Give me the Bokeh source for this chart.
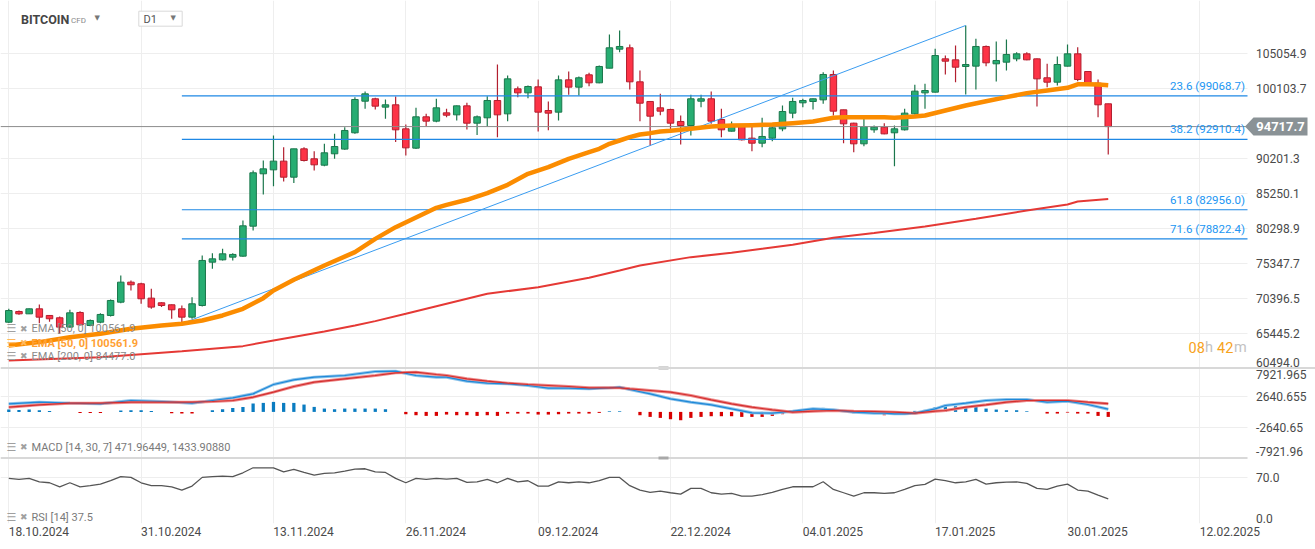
from bokeh.plotting import figure
from bokeh.models import ColumnDataSource, FixedTicker, Range1d, Span, Grid
from bokeh.core.properties import value
from bokeh.embed import file_html
from bokeh.resources import INLINE

# ------------------------------------------------------------------ data (daily, 18.10.2024 .. 03.02.2025)
opens = [67050, 68560, 68230, 68940, 68000, 67670, 66350, 68420, 66580, 67050,
         68000, 69880, 72710, 72480, 70450, 69790, 69510, 68940, 67760, 69410,
         75540, 75870, 76250, 76390, 80630, 88040, 88600, 89830, 87560, 91570,
         90160, 89260, 90870, 91530, 93840, 98310, 98650, 97470, 97800, 94400,
         91670, 96100, 95490, 96660, 96380, 97650, 95200, 95960, 98410, 96520,
         100060, 99490, 100340, 96990, 96760, 101330, 100300, 102040, 100910, 102980,
         105670, 105860, 101050, 98270, 97370, 97140, 95440, 94870, 98310, 98650,
         95720, 94070, 94870, 93080, 92370, 93080, 94400, 96620, 98080, 98270,
         98500, 102090, 97090, 95200, 92280, 94260, 94640, 93840, 94260, 96520,
         99490, 99590, 104300, 104160, 103220, 103270, 106050, 103600, 103830, 104300,
         105010, 104300, 101620, 101000, 103270, 105010, 102510, 100860, 97940]
highs = [68940, 68700, 69000, 69550, 68050, 67860, 68800, 68610, 67430, 68330,
         70260, 73660, 72950, 72620, 71770, 69880, 69550, 69410, 70590, 76480,
         76810, 77430, 76810, 81440, 88510, 89920, 93460, 91810, 91600, 91810,
         91240, 92280, 93690, 94640, 98880, 99680, 98790, 98550, 98980, 95010,
         97370, 96520, 98650, 97230, 97700, 98080, 96290, 99020, 103500, 101950,
         100390, 100530, 101380, 98270, 101950, 102510, 101800, 102320, 103360, 107750,
         108310, 106330, 102650, 98270, 99350, 97230, 96290, 99210, 99210, 99680,
         97230, 95440, 94900, 94870, 95960, 94870, 97700, 98790, 98650, 98700,
         102420, 102650, 97100, 95250, 95820, 94870, 95200, 94870, 97230, 100630,
         100770, 105720, 104770, 106190, 109020, 107130, 106190, 106760, 107040, 105250,
         105250, 104350, 103600, 104630, 106330, 105950, 102550, 101380, 97950]
lows = [66950, 68090, 68200, 66910, 67100, 65400, 66300, 66580, 66490, 66910,
        67860, 69740, 71530, 69650, 68940, 69180, 67530, 66843, 67530, 69270,
        74600, 75780, 75780, 76300, 80020, 85110, 86290, 86950, 86720, 89780,
        88510, 89120, 90160, 91430, 93690, 97230, 97140, 95820, 92520, 90630,
        91530, 94730, 95340, 96050, 95580, 94310, 93510, 94730, 93220, 95490,
        98880, 98740, 94020, 94210, 95580, 99210, 99120, 100440, 100860, 102980,
        105250, 99970, 95490, 92040, 96330, 94260, 92190, 93460, 97470, 95110,
        93220, 94020, 92750, 91240, 91810, 92660, 94070, 95910, 97470, 97140,
        97940, 96290, 92370, 91100, 91950, 93840, 93650, 89120, 94170, 96430,
        97230, 99550, 102090, 101000, 99260, 99970, 103270, 101100, 102650, 103970,
        104100, 97560, 100300, 100530, 103200, 101140, 100770, 96050, 90770]
closes = [68700, 68230, 68940, 67760, 67530, 66350, 68370, 66680, 67290, 68140,
          70120, 72710, 72340, 70360, 69180, 69410, 68800, 67760, 69650, 75780,
          76010, 76720, 76630, 80680, 88180, 88740, 89830, 87560, 91570, 89920,
          89310, 91010, 91900, 94170, 98550, 99350, 97610, 97800, 94260, 91710,
          96100, 95490, 97370, 96330, 97650, 95200, 96100, 98410, 96380, 101470,
          99490, 100390, 96760, 96620, 101330, 100300, 101620, 100910, 103220, 105860,
          106050, 101050, 98030, 96190, 96900, 95200, 94870, 98650, 98650, 95490,
          94260, 94730, 92850, 92370, 93320, 94540, 96850, 98270, 98410, 98650,
          102090, 96900, 95110, 92280, 94730, 94640, 93690, 94400, 96620, 99730,
          99820, 104770, 103970, 103120, 103500, 106050, 103740, 104070, 104920, 105010,
          104160, 101470, 101000, 103500, 105010, 101380, 100860, 97800, 94717.7]

ema50_day = [0, 3, 6, 9, 12, 15, 17, 19, 21, 23, 25, 26, 28, 31, 34, 36, 38, 42, 43, 45,
             47, 49, 51, 53, 55, 57, 58, 59, 60, 61, 62, 63, 64, 65, 67, 69, 71, 73, 75, 77,
             79, 81, 82, 85, 86, 87, 89, 90, 92, 94, 96, 98, 100, 102, 104, 105, 106, 107, 108]
ema50_val = [63750, 64230, 64930, 65400, 66110, 66580, 66820, 67290, 68000, 68940,
             70450, 71530, 73040, 75070, 76960, 78840, 80490, 83230, 83650, 84360,
             85300, 86480, 88040, 88980, 90160, 91100, 91570, 92280, 92750, 93220,
             93600, 93790, 94020, 94120, 94400, 94730, 94870, 94920, 95010, 95200,
             95440, 95960, 96050, 96050, 96050, 95960, 96150, 96290, 96990, 97700,
             98310, 98880, 99450, 99820, 100200, 100700, 100720, 100680, 100561.9]

ema200_day = [0, 9, 17, 23, 26, 31, 34, 36, 39, 42, 47, 52, 57, 60, 62, 67, 71, 74, 77, 81,
              85, 90, 95, 100, 104, 105, 108]
ema200_val = [61630, 62100, 62950, 63660, 64460, 65730, 66580, 67200, 68230, 69300,
              71060, 72000, 73330, 74360, 75070, 76250, 76860, 77430, 77990, 78980,
              79650, 80590, 81670, 82850, 83700, 84130, 84477.0]

macd_day = [0, 3, 6, 9, 12, 15, 18, 20, 22, 24, 26, 28, 30, 33, 36, 38, 40, 42, 43, 45,
            47, 49, 51, 53, 55, 57, 59, 60, 61, 63, 65, 67, 69, 71, 73, 75, 77, 79, 81, 83,
            85, 86, 87, 88, 89, 91, 92, 94, 96, 98, 100, 102, 104, 106, 108]
macd_val = [1404, 1694, 1520, 1404, 1984, 1810, 1520, 1984, 2448, 3144,
            4768, 5580, 6044, 6334, 7030, 7088, 6334, 6044, 6044, 5348,
            5000, 4884, 4594, 4130, 4130, 4014, 4188, 4304, 3898, 3144,
            2274, 1694, 1230, 534, -162, -220, 128, 534, 360, -46,
            -220, -220, -336, -336, -220, 534, 1114, 1520, 1984, 2158,
            2158, 1694, 1868, 1288, 471.96449]
signal_day = [0, 3, 6, 9, 12, 15, 18, 20, 22, 24, 26, 28, 30, 33, 36, 38, 40, 42, 43, 45,
              47, 49, 51, 53, 55, 57, 59, 60, 61, 63, 65, 67, 69, 71, 73, 75, 77, 79, 81, 83,
              85, 87, 89, 91, 92, 94, 96, 98, 100, 102, 104, 106, 108]
signal_val = [824, 1230, 1520, 1520, 1694, 1694, 1694, 1810, 1984, 2564,
              3434, 4420, 5174, 5754, 6334, 6798, 6914, 6508, 6334, 5754,
              5348, 5000, 4768, 4594, 4420, 4188, 4188, 4188, 4014, 3724,
              3434, 2854, 2100, 1404, 824, 360, -46, 128, 244, 128,
              70, -46, -220, 128, 244, 824, 1230, 1694, 1984, 1984,
              1984, 1694, 1433.90880]
hist_val = [406, 348, 406, 290, 174, 0, 0, -174, -174, -174,
            0, 232, 290, 290, 174, 0, -232, -290, -290, 0,
            290, 464, 696, 870, 1450, 1566, 1740, 1566, 1566, 1276,
            870, 580, 464, 580, 580, 580, 580, 464, 0, -406,
            -580, -696, -696, -464, -580, -580, -696, -580, -696, -290,
            -290, -290, -464, -464, -406, -290, -290, -290, -174, 116,
            116, 0, -580, -870, -1044, -1276, -1450, -1044, -870, -754,
            -754, -754, -870, -870, -870, -696, -400, 116, 116, 400,
            700, 400, 290, -230, -350, -350, -580, -350, -290, 174,
            350, 812, 1160, 986, 870, 870, 580, 406, 290, 290,
            116, 0, -290, -290, -116, -290, -290, -696, -870]
rsi_val = [68.6, 67.1, 68.6, 63.5, 62.0, 55.9, 62.0, 55.9, 57.5, 60.0,
           65.1, 71.2, 70.2, 62.0, 57.5, 57.5, 55.9, 50.9, 57.0, 70.2,
           71.2, 72.2, 71.2, 77.2, 84.8, 84.8, 84.8, 78.7, 82.3, 77.7,
           73.7, 76.2, 77.2, 79.8, 82.8, 83.3, 78.7, 77.7, 68.6, 62.0,
           68.6, 67.1, 68.6, 67.6, 68.6, 62.5, 63.5, 67.1, 62.0, 68.6,
           63.5, 65.1, 57.0, 57.0, 63.5, 62.0, 63.5, 62.0, 65.1, 70.2,
           70.2, 57.5, 50.9, 47.3, 49.4, 46.8, 44.8, 53.4, 53.4, 46.8,
           44.8, 45.8, 41.7, 41.7, 43.8, 47.3, 51.9, 55.9, 55.9, 55.9,
           63.5, 51.9, 46.8, 41.7, 46.8, 46.8, 45.8, 46.8, 51.9, 57.5,
           59.5, 67.6, 65.1, 62.0, 63.5, 67.1, 60.0, 62.0, 63.0, 63.5,
           61.0, 53.4, 51.9, 57.0, 60.0, 50.9, 49.4, 43.3, 37.5]

fib_pct = ["23.6", "38.2", "61.8", "71.6"]
fib_price = [99068.7, 92910.4, 82956.0, 78822.4]
swing_low_day, swing_low = 17, 66843.0
swing_high_day, swing_high = 94, 109023.0
last_price = 94717.7
ema50_last, ema200_last = 100561.9, 84477.0
macd_last, signal_last, rsi_last = "471.96449", "1433.90880", "37.5"

price_ticks = [60494.0, 65445.2, 70396.5, 75347.7, 80298.9, 85250.1, 90201.3, 100103.7, 105054.9]
macd_grid = [2640.655, -2640.65]
macd_tick_labels = ["7921.965", "2640.655", "-2640.65", "-7921.96"]
rsi_tick_labels = ["70.0", "0.0"]
date_tick_days = [0, 13, 26, 39, 52, 65, 78, 91, 104, 117]
date_tick_labels = ["18.10.2024", "31.10.2024", "13.11.2024", "26.11.2024", "09.12.2024",
                    "22.12.2024", "04.01.2025", "17.01.2025", "30.01.2025", "12.02.2025"]

n = len(closes)
assert len(opens) == len(highs) == len(lows) == n == len(hist_val) == len(rsi_val) == 109
days = list(range(n))

# ------------------------------------------------------------------ screen calibration (pixels of the layout)
PX_DAY, DAY0 = 10.18, 8.3
def xd(px): return (px - DAY0) / PX_DAY
def yp(py): return 112554.0 - 141.46 * py
def ym(py): return (411.4 - py) * 174.0
def yr(py): return (523.0 - py) / 0.657
def py_of_price(v): return (112554.0 - v) / 141.46
def py_of_macd(v): return 411.4 - v / 174.0
def py_of_rsi(v): return 523.0 - v * 0.657

FL, FR, FT, FB = 0, 1315, 0, 523
PANE_R = 1247          # right edge of the drawing panes (price scale to its right)
FONT = value("Roboto")

p = figure(frame_width=FR - FL, frame_height=FB - FT, output_backend="svg",
           toolbar_location=None, y_axis_location=None,
           x_range=Range1d(xd(FL), xd(FR)), y_range=Range1d(yp(FB), yp(FT)),
           min_border=0)
p.extra_y_ranges = {"macd": Range1d(ym(FB), ym(FT)), "rsi": Range1d(yr(FB), yr(FT))}
p.outline_line_color = None
p.background_fill_color = "white"
p.border_fill_color = "white"

# grids
p.ygrid.ticker = FixedTicker(ticks=price_ticks)
for g in (p.xgrid, p.ygrid):
    g.grid_line_color = "#eeeeee"
    g.grid_line_width = 1
p.add_layout(Grid(dimension=1, ticker=FixedTicker(ticks=macd_grid), y_range_name="macd",
                  grid_line_color="#eeeeee"))
p.add_layout(Grid(dimension=1, ticker=FixedTicker(ticks=[70.0, 0.0]), y_range_name="rsi",
                  grid_line_color="#eeeeee"))

# x axis (labels start at their grid line)
xa = p.xaxis[0]
lab_ticks = [d + 2.95 for d in date_tick_days]
xa.ticker = FixedTicker(ticks=lab_ticks)
xa.major_label_overrides = {t: s for t, s in zip(lab_ticks, date_tick_labels)}
xa.axis_line_color = None
xa.major_tick_line_color = None
xa.minor_tick_line_color = None
xa.major_tick_out = 0
xa.minor_tick_out = 0
xa.major_label_standoff = 3
xa.major_label_text_font = "Roboto"
xa.major_label_text_font_size = "12px"
xa.major_label_text_color = "#4a4a4a"
p.xgrid.ticker = FixedTicker(ticks=date_tick_days)

# price-scale column background (grid stops at the pane edge)
p.quad(left=xd(PANE_R), right=xd(FR + 5), top=yp(FT - 5), bottom=yp(FB + 5),
       fill_color="white", line_color=None)

# pane separators + handles
p.add_layout(Span(location=yp(367.5), dimension="width", line_color="#d8d8d8", line_width=2))
p.segment(x0=xd(FL), x1=xd(PANE_R), y0=yp(457.5), y1=yp(457.5), line_color="#d8d8d8", line_width=2)
p.rect(x=[xd(663)] * 2, y=[yp(367.5), yp(457.5)], width=10, height=3,
       width_units="screen", height_units="screen", fill_color="#a8a8a8", line_color=None)

# ------------------------------------------------------------------ candles
up = [c >= o for o, c in zip(opens, closes)]
src = ColumnDataSource(dict(
    day=days, high=highs, low=lows,
    top=[max(o, c) for o, c in zip(opens, closes)],
    bot=[min(o, c) for o, c in zip(opens, closes)],
    fill=["#27ad72" if u else "#fd3346" for u in up],
    edge=["#1b774c" if u else "#b21f2f" for u in up]))
p.segment(x0="day", y0="low", x1="day", y1="high", line_color="edge", line_width=1.2, source=src)
p.vbar(x="day", width=0.64, top="top", bottom="bot", fill_color="fill", line_color="edge",
       line_width=1, source=src)

# last price line
p.segment(x0=xd(FL), x1=xd(PANE_R), y0=last_price, y1=last_price, line_color="#8c8c8c", line_width=1)

# fibonacci + trend line
x_end = xd(PANE_R)
p.segment(x0=[swing_low_day] * 4, x1=[x_end] * 4, y0=fib_price, y1=fib_price,
          line_color="#1e88e5", line_width=1.2)
p.text(x=[x_end] * 4, y=fib_price, text=[f"{a} ({b:.1f})" for a, b in zip(fib_pct, fib_price)],
       text_align="right", text_baseline="bottom", x_offset=-2.5, y_offset=-3,
       text_font=FONT, text_font_size="11.5px", text_color="#2196f3")
p.line([swing_low_day, swing_high_day], [swing_low, swing_high], line_color="#3a9cf0", line_width=1)

# moving averages
p.line(ema200_day, ema200_val, line_color="#e53935", line_width=2)
p.line(ema50_day, ema50_val, line_color="#fb8c00", line_width=4.5, line_join="round")

# countdown
p.text(x=[xd(1188)] * 4, y=[yp(346.7)] * 4, text=["08", "h", "42", "m"],
       x_offset=[0, 16.5, 28.5, 45.5], text_color=["#f7a21b", "#c2c2c2", "#f7a21b", "#c2c2c2"],
       text_align="left", text_baseline="middle", text_font=FONT, text_font_size="14.5px")

# ------------------------------------------------------------------ MACD pane
hsrc = ColumnDataSource(dict(day=days, top=hist_val,
                             color=["#0a7cc1" if v > 0 else "#d80000" for v in hist_val]))
p.vbar(x="day", width=0.32, top="top", bottom=0, fill_color="color", line_color=None,
       source=hsrc, y_range_name="macd")
p.line(macd_day, macd_val, line_color="#8cc3ea", line_width=3, y_range_name="macd")
p.line(signal_day, signal_val, line_color="#ee8a8a", line_width=3, y_range_name="macd")
p.line(macd_day, macd_val, line_color="#1e88d8", line_width=1.2, y_range_name="macd")
p.line(signal_day, signal_val, line_color="#d32f2f", line_width=1.2, y_range_name="macd")

# ------------------------------------------------------------------ RSI pane
p.line(days, rsi_val, line_color="#555555", line_width=1.3, y_range_name="rsi")

# ------------------------------------------------------------------ price scale labels (right column)
scale_txt, scale_py = [], []
for v in price_ticks:
    scale_txt.append(f"{v:.1f}")
    scale_py.append(py_of_price(v) - (6 if v == price_ticks[0] else 0))
scale_txt += macd_tick_labels
scale_py += [374.0, py_of_macd(2640.655), py_of_macd(-2640.65), 451.0]
scale_txt += rsi_tick_labels
scale_py += [py_of_rsi(70.0), 518.3]
p.text(x=[xd(1255.5)] * len(scale_txt), y=[yp(v) for v in scale_py], text=scale_txt,
       text_align="left", text_baseline="middle", text_font=FONT, text_font_size="12px",
       text_color="#4a4a4a")

# last price tag
h = 141.46 * 9
p.patch(x=[xd(1244.5), xd(1253), xd(1307), xd(1307), xd(1253)],
        y=[last_price, last_price + h, last_price + h, last_price - h, last_price - h],
        fill_color="#8a9296", line_color=None)
p.text(x=[xd(1280)], y=[last_price], text=[f"{last_price:.1f}"], text_align="center",
       text_baseline="middle", text_color="white", text_font_style="bold",
       text_font=FONT, text_font_size="13px")

# ------------------------------------------------------------------ legends / header
leg_y = [328.3, 342.5, 355.8, 446.7, 516.7]
leg_txt = [f"EMA [50, 0] {ema50_last:.1f}", f"EMA [50, 0] {ema50_last:.1f}",
           f"EMA [200, 0] {ema200_last:.1f}", f"MACD [14, 30, 7] {macd_last},  {signal_last}",
           f"RSI [14] {rsi_last}"]
leg_col = ["#8a8a8a", "#ffa033", "#8a8a8a", "#7a7a7a", "#7a7a7a"]
icon_col = ["#a0a0a0", "#ffb85c", "#a0a0a0", "#a0a0a0", "#a0a0a0"]
p.text(x=[xd(31)] * 5, y=[yp(v) for v in leg_y], text=leg_txt, text_color=leg_col,
       text_font_style=["normal", "bold", "normal", "normal", "normal"],
       text_align="left", text_baseline="middle", text_font=FONT, text_font_size="11px")
p.text(x=[xd(6)] * 5, y=[yp(v) for v in leg_y], text=["☰"] * 5, text_color=icon_col,
       text_align="left", text_baseline="middle", text_font=value("DejaVu Sans"), text_font_size="11px")
p.text(x=[xd(19.5)] * 5, y=[yp(v) for v in leg_y], text=["✖"] * 5, text_color=icon_col,
       text_align="left", text_baseline="middle", text_font=value("DejaVu Sans"), text_font_size="9px")

p.quad(left=xd(138.3), right=xd(181.7), top=yp(10.7), bottom=yp(25.7),
       fill_color="white", line_color="#d9d9d9")
p.text(x=[xd(20.5)], y=[yp(18.5)], text=["BITCOIN"], text_font=FONT, text_font_style="bold",
       text_font_size="12.5px", text_color="#454545", text_align="left", text_baseline="middle")
p.text(x=[xd(70.5)], y=[yp(19.5)], text=["CFD"], text_font=FONT, text_font_size="8px",
       text_color="#8a8a8a", text_align="left", text_baseline="middle")
p.text(x=[xd(94), xd(170)], y=[yp(17), yp(17)], text=["▼", "▼"], text_font=value("DejaVu Sans"),
       text_font_size="7px", text_color="#777777", text_align="left", text_baseline="middle")
p.text(x=[xd(143)], y=[yp(18.5)], text=["D1"], text_font=FONT, text_font_size="11px",
       text_color="#555555", text_align="left", text_baseline="middle")

open("out.html", "w").write(file_html(p, INLINE))
